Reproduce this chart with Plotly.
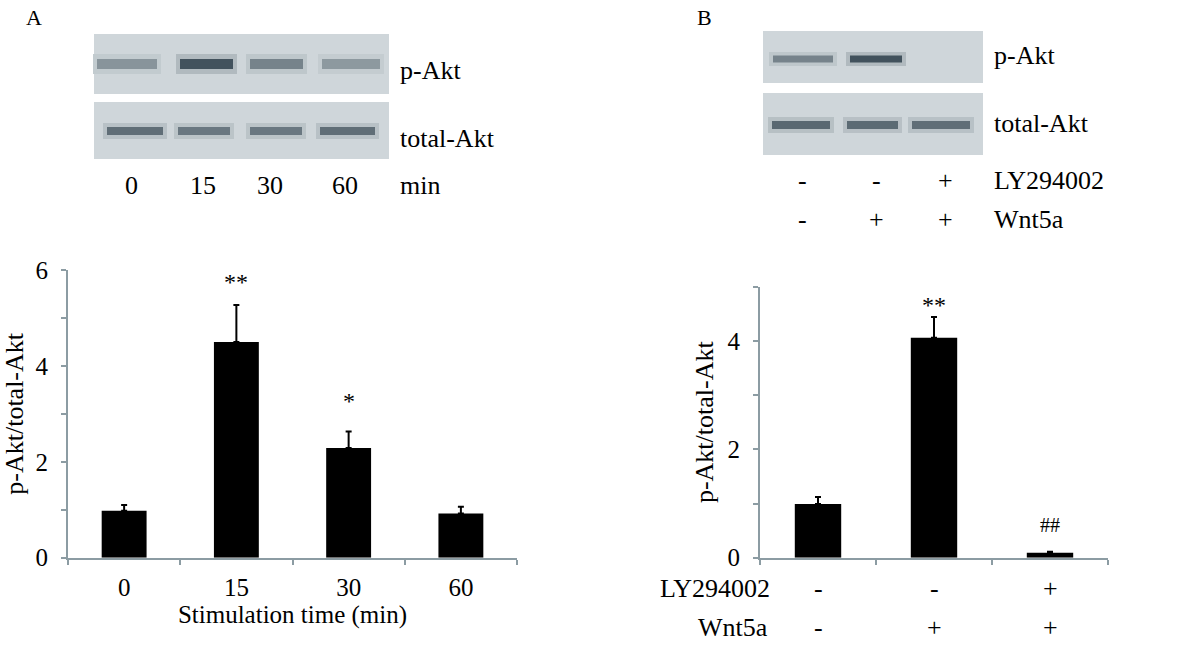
import plotly.graph_objects as go

# ---- data ----
times = ["0", "15", "30", "60"]
ratio_a = [0.98, 4.50, 2.29, 0.92]
err_a = [0.12, 0.77, 0.34, 0.14]
sig_a = ["", "**", "*", ""]

groups_b = ["ctrl", "wnt5a", "wnt5a+ly"]
ly294002 = ["-", "-", "+"]
wnt5a = ["-", "+", "+"]
ratio_b = [0.99, 4.06, 0.09]
err_b = [0.13, 0.38, 0.02]
sig_b = ["", "**", "##"]

# relative band darkness on the blots (0 = no band, 1 = black)
pakt_a = [0.45, 0.85, 0.55, 0.42]
tot_a = [0.68, 0.62, 0.62, 0.68]
pakt_b = [0.55, 0.85, 0.0]
tot_b = [0.72, 0.70, 0.68]

W, H = 1200, 648
FONT = "'Liberation Serif', 'Times New Roman', serif"
AX = "#8c9ca3"


def px(x):
    return x / W


def py(y):
    return 1 - y / H


def mix(t):
    bg = (214, 221, 224)
    dk = (40, 58, 70)
    c = [round(bg[i] + (dk[i] - bg[i]) * t) for i in range(3)]
    return "rgb(%d,%d,%d)" % tuple(c)


shapes = []
annotations = []


def blot(box, lanes, yc, h, levels):
    x0, y0, x1, y1 = box
    shapes.append(dict(type="rect", xref="paper", yref="paper", x0=px(x0), x1=px(x1),
                       y0=py(y1), y1=py(y0), fillcolor=mix(0.04), line=dict(width=0), layer="below"))
    for (l0, l1), lv in zip(lanes, levels):
        if lv <= 0:
            continue
        # soft halo then core band
        shapes.append(dict(type="rect", xref="paper", yref="paper", x0=px(l0 - 4), x1=px(l1 + 4),
                           y0=py(yc + h), y1=py(yc - h), fillcolor=mix(lv * 0.25),
                           line=dict(width=0), layer="below"))
        shapes.append(dict(type="rect", xref="paper", yref="paper", x0=px(l0), x1=px(l1),
                           y0=py(yc + h / 2), y1=py(yc - h / 2), fillcolor=mix(lv),
                           line=dict(width=0), layer="below"))


def label(x, y, text, size=26, xanchor="left", xref="paper", yref="paper"):
    annotations.append(dict(x=x, y=y, text=text, xref=xref, yref=yref, showarrow=False,
                            xanchor=xanchor, yanchor="middle",
                            font=dict(family=FONT, size=size, color="black")))


# ---- blots panel A ----
blot((94, 34, 389, 94), [(97, 157), (180, 233), (250, 303), (322, 380)], 64, 10, pakt_a)
blot((94, 102, 389, 159), [(107, 163), (178, 230), (250, 302), (320, 375)], 131, 8, tot_a)
label(px(398), py(70), "p-Akt")
label(px(398), py(138), "total-Akt")
for xc, t in zip([131, 203, 270, 345], times):
    label(px(xc), py(185), t, xanchor="center")
label(px(398), py(185), "min")

# ---- blots panel B ----
blot((763, 31, 983, 83), [(773, 833), (850, 902), (912, 970)], 59, 7, pakt_b)
blot((763, 93, 983, 155), [(772, 830), (847, 898), (912, 970)], 125, 8, tot_b)
label(px(992), py(55), "p-Akt")
label(px(992), py(124), "total-Akt")
for xc, a, b in zip([802, 876, 945], ly294002, wnt5a):
    label(px(xc), py(180), a, xanchor="center")
    label(px(xc), py(220), b, xanchor="center")
label(px(992), py(180), "LY294002")
label(px(992), py(220), "Wnt5a")

# panel letters
label(px(24), py(17), "A", size=22)
label(px(695), py(17), "B", size=22)

# significance marks
for i, (v, e, s) in enumerate(zip(ratio_a, err_a, sig_a)):
    if s:
        annotations.append(dict(x=i, y=v + e, xref="x", yref="y", text=s, showarrow=False,
                                yanchor="bottom", yshift=8 if s == "**" else 16,
                                font=dict(family=FONT, size=24, color="black")))
for i, (v, e, s) in enumerate(zip(ratio_b, err_b, sig_b)):
    if s:
        annotations.append(dict(x=i, y=v + e, xref="x2", yref="y2", text=s, showarrow=False,
                                yanchor="bottom", yshift=-3 if s == "**" else 14,
                                font=dict(family=FONT, size=24 if s == "**" else 20, color="black")))

# treatment rows under panel B
for i, (a, b) in enumerate(zip(ly294002, wnt5a)):
    annotations.append(dict(x=i, y=py(588), xref="x2", yref="paper", text=a, showarrow=False,
                            yanchor="middle", font=dict(family=FONT, size=26, color="black")))
    annotations.append(dict(x=i, y=py(627), xref="x2", yref="paper", text=b, showarrow=False,
                            yanchor="middle", font=dict(family=FONT, size=26, color="black")))
label(px(772), py(588), "LY294002", xanchor="right")
label(px(770), py(627), "Wnt5a", xanchor="right")

fig = go.Figure()
fig.add_trace(go.Bar(x=times, y=ratio_a, width=0.4, marker=dict(color="black", line=dict(width=0)),
                     error_y=dict(type="data", symmetric=False, array=err_a, arrayminus=[0] * 4,
                                  color="black", thickness=2, width=3),
                     xaxis="x", yaxis="y", showlegend=False))
fig.add_trace(go.Bar(x=groups_b, y=ratio_b, width=0.4, marker=dict(color="black", line=dict(width=0)),
                     error_y=dict(type="data", symmetric=False, array=err_b, arrayminus=[0] * 3,
                                  color="black", thickness=2, width=3),
                     xaxis="x2", yaxis="y2", showlegend=False))

axis_common = dict(showline=True, linecolor=AX, linewidth=2, ticks="outside", tickcolor=AX,
                   tickwidth=2, ticklen=5, showgrid=False, zeroline=False, automargin=False,
                   tickfont=dict(family=FONT, size=25, color="black"))

fig.update_layout(
    width=W, height=H, margin=dict(l=0, r=0, t=0, b=0, autoexpand=False),
    paper_bgcolor="white", plot_bgcolor="white",
    font=dict(family=FONT, color="black"),
    shapes=shapes, annotations=annotations,
    xaxis=dict(domain=[px(68), px(517)], type="category", range=[-0.5, 3.5], tickson="boundaries",
               anchor="y", ticklabelstandoff=6,
               title=dict(text="Stimulation time (min)", standoff=4,
                          font=dict(family=FONT, size=25, color="black")), **axis_common),
    yaxis=dict(domain=[py(557.7), py(270)], range=[0, 6], tickvals=[0, 1, 2, 3, 4, 5, 6],
               ticktext=["0", "", "2", "", "4", "", "6"], anchor="x", ticklabelstandoff=8,
               title=dict(text="p-Akt/total-Akt", standoff=11,
                          font=dict(family=FONT, size=26, color="black")), **axis_common),
    xaxis2=dict(domain=[px(760), px(1108)], type="category", range=[-0.5, 2.5], tickson="boundaries",
                anchor="y2", showticklabels=False, **axis_common),
    yaxis2=dict(domain=[py(557.7), py(286.7)], range=[0, 5], tickvals=[0, 1, 2, 3, 4, 5],
                ticktext=["0", "", "2", "", "4", ""], anchor="x2", ticklabelstandoff=8,
                title=dict(text="p-Akt/total-Akt", standoff=6,
                           font=dict(family=FONT, size=26, color="black")), **axis_common),
)

# drop the browser's default body margin so the figure sits at the page origin
fig.write_html("out.html", config={"displayModeBar": False},
               post_script="document.body.style.margin='0';")
